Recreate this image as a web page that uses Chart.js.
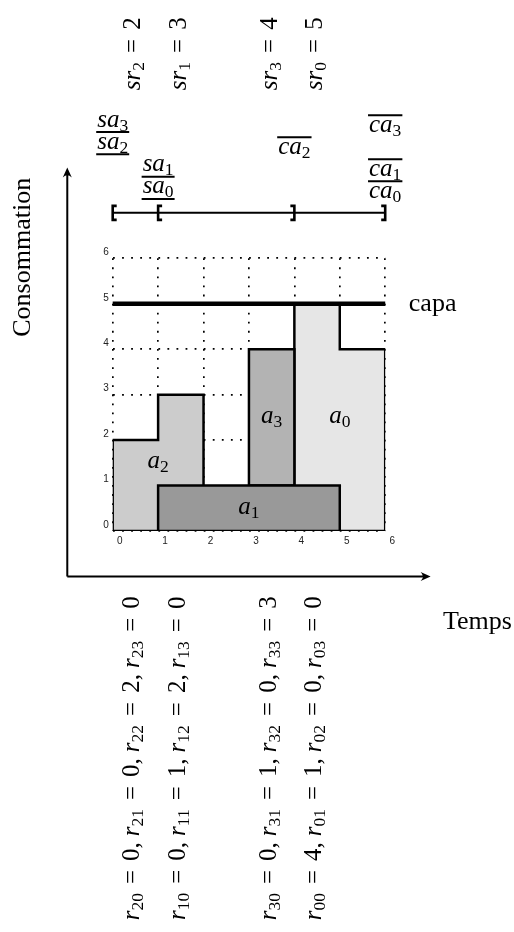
<!DOCTYPE html>
<html>
<head>
<meta charset="utf-8">
<script src="https://cdn.jsdelivr.net/npm/chart.js@4/dist/chart.umd.min.js"></script>
<style>
  html, body { margin: 0; padding: 0; background: #fff; }
  canvas { display: block; }
</style>
</head>
<body>
<canvas id="chart" width="514" height="932"></canvas>
<script>
// axis ticks
const timeTicks = [0, 1, 2, 3, 4, 5, 6];
const consTicks = [0, 1, 2, 3, 4, 5, 6];
const capacity = 5;
const horizon = 6;

// activities a0..a3 : outline of each consumption profile (time, consumption)
const activityNames = ['a_0', 'a_1', 'a_2', 'a_3'];
const a0Time = [4, 4, 5, 5, 6, 6, 4];
const a0Cons = [0, 5, 5, 4, 4, 0, 0];
const a1Time = [1, 1, 5, 5, 1];
const a1Cons = [0, 1, 1, 0, 0];
const a2Time = [0, 0, 1, 1, 2, 2, 0];
const a2Cons = [0, 2, 2, 3, 3, 0, 0];
const a3Time = [3, 3, 4, 4, 3];
const a3Cons = [1, 4, 4, 1, 1];

// earliest start sa_i and latest completion ca_i
const saValues = [1, 1, 0, 0];
const caValues = [6, 6, 4, 6];

// sr_i : position on the time axis and value
const srTime = [4.5, 1.5, 0.5, 3.5];
const srValues = [5, 3, 2, 4];

// r_ij
const r0 = [4, 1, 0, 0];
const r1 = [0, 1, 2, 0];
const r2 = [0, 0, 2, 0];
const r3 = [0, 1, 0, 3];
const rRows = [r0, r1, r2, r3];

// styles
const fills = ['#e6e6e6', '#999999', '#cccccc', '#b3b3b3'];
const drawOrder = [4, 1, 3, 2];
// where the a_i names sit inside their shapes
const nameAt = [[5, 2.5], [3, 0.5], [1, 1.5], [3.5, 2.5]];

const serif = '"Liberation Serif", "DejaVu Serif", serif';
const MATH = 25;

const toPts = (xs, ys) => xs.map((v, i) => ({x: v, y: ys[i]}));
const outlines = [toPts(a0Time, a0Cons), toPts(a1Time, a1Cons), toPts(a2Time, a2Cons), toPts(a3Time, a3Cons)];

const datasets = outlines.map((pts, i) => ({
    label: activityNames[i],
    data: pts,
    backgroundColor: fills[i],
    borderColor: '#000',
    borderWidth: 2.5,
    borderJoinStyle: 'miter',
    borderCapStyle: 'square',
    fill: 'shape',
    pointRadius: 0,
    tension: 0,
    order: drawOrder[i]
}));
datasets.push({
    label: 'capa',
    data: [{x: 0, y: capacity}, {x: horizon, y: capacity}],
    borderColor: '#000',
    borderWidth: 4.5,
    borderCapStyle: 'round',
    fill: false,
    pointRadius: 0,
    order: 0
});

// tiny math typesetter: letters italic, _x or _{xy} subscript
function mathRuns(src) {
    const runs = [];
    let i = 0;
    while (i < src.length) {
        const c = src[i];
        if (c === ' ') { i++; continue; }
        if (c === '_') {
            let t;
            if (src[i + 1] === '{') {
                const j = src.indexOf('}', i);
                t = src.slice(i + 2, j);
                i = j + 1;
            } else {
                t = src[i + 1];
                i += 2;
            }
            runs.push({text: t, sub: true});
            continue;
        }
        if (c === '=') { runs.push({text: '=', pad: 0.36}); i++; continue; }
        if (c === ',') { runs.push({text: ',', after: 0.24}); i++; continue; }
        runs.push({text: c, italic: /[a-zA-Z]/.test(c)});
        i++;
    }
    return runs;
}

function runFont(r, size) {
    const s = r.sub ? size * 0.7 : size;
    return (r.italic ? 'italic ' : '') + s + 'px ' + serif;
}

function drawMath(ctx, src, x, y, size, align) {
    const runs = mathRuns(src);
    let w = 0;
    runs.forEach(r => {
        ctx.font = runFont(r, size);
        r.w = ctx.measureText(r.text).width;
        r.before = (r.pad || 0) * size;
        r.total = r.before + r.w + (r.pad || 0) * size + (r.after || 0) * size;
        w += r.total;
    });
    let cx = align === 'center' ? x - w / 2 : (align === 'right' ? x - w : x);
    const x0 = cx;
    ctx.textAlign = 'left';
    ctx.textBaseline = 'alphabetic';
    runs.forEach(r => {
        ctx.font = runFont(r, size);
        ctx.fillText(r.text, cx + r.before, r.sub ? y + size * 0.16 : y);
        cx += r.total;
    });
    return {x0: x0, w: w};
}

function arrowHead(ctx, x, y, dx, dy) {
    const len = 10, half = 4.5;
    const nx = -dy, ny = dx;
    ctx.beginPath();
    ctx.moveTo(x, y);
    ctx.lineTo(x - dx * len + nx * half, y - dy * len + ny * half);
    ctx.quadraticCurveTo(x - dx * len * 0.55, y - dy * len * 0.55, x - dx * len - nx * half, y - dy * len - ny * half);
    ctx.closePath();
    ctx.fill();
}

const decor = {
    id: 'decor',
    afterDraw(chart) {
        const {ctx, scales: {x, y}} = chart;
        const px = v => x.getPixelForValue(v);
        const py = v => y.getPixelForValue(v);
        ctx.save();
        ctx.fillStyle = '#000';
        ctx.strokeStyle = '#000';

        // outer axes with arrows
        const ox = px(-1), oy = py(-1);
        ctx.lineWidth = 2;
        ctx.beginPath();
        ctx.moveTo(ox, oy); ctx.lineTo(ox, py(8) + 6);
        ctx.moveTo(ox, oy); ctx.lineTo(px(7) - 6, oy);
        ctx.stroke();
        arrowHead(ctx, ox, py(8), 0, -1);
        arrowHead(ctx, px(7), oy, 1, 0);

        // axis titles
        ctx.font = '26px ' + serif;
        ctx.textBaseline = 'middle';
        ctx.textAlign = 'left';
        ctx.fillText('capa', px(6.52), py(capacity));
        ctx.fillText('Temps', px(7.27), py(-2));
        ctx.save();
        ctx.translate(px(-2) + 1, py(6) - 1);
        ctx.rotate(-Math.PI / 2);
        ctx.textAlign = 'center';
        ctx.fillText('Consommation', 0, 0);
        ctx.restore();

        // interval bar
        const starts = [...new Set(saValues)].sort((a, b) => a - b);
        const ends = [...new Set(caValues)].sort((a, b) => a - b);
        const barY = py(7);
        ctx.lineWidth = 2;
        ctx.beginPath();
        ctx.moveTo(px(Math.min(...starts)), barY);
        ctx.lineTo(px(Math.max(...ends)), barY);
        ctx.stroke();
        ctx.lineWidth = 2.6;
        const bh = 7, arm = 4;
        starts.forEach(t => {
            const bx = px(t);
            ctx.beginPath();
            ctx.moveTo(bx + arm, barY - bh); ctx.lineTo(bx, barY - bh);
            ctx.lineTo(bx, barY + bh); ctx.lineTo(bx + arm, barY + bh);
            ctx.stroke();
        });
        ends.forEach(t => {
            const bx = px(t);
            ctx.beginPath();
            ctx.moveTo(bx - arm, barY - bh); ctx.lineTo(bx, barY - bh);
            ctx.lineTo(bx, barY + bh); ctx.lineTo(bx - arm, barY + bh);
            ctx.stroke();
        });

        // sa_i (underlined) and ca_i (overlined) stacked by activity index
        ctx.lineWidth = 2;
        saValues.forEach((t, i) => {
            const base = barY - 25 - 22.3 * i + 5.6;
            const m = drawMath(ctx, 'sa_' + i, px(t), base, MATH, 'center');
            ctx.beginPath();
            ctx.moveTo(m.x0 - 1, base + 5.5); ctx.lineTo(m.x0 + m.w + 1, base + 5.5);
            ctx.stroke();
        });
        caValues.forEach((t, i) => {
            const base = barY - 20.5 - 22 * i + 5.6;
            const m = drawMath(ctx, 'ca_' + i, px(t), base, MATH, 'center');
            ctx.beginPath();
            ctx.moveTo(m.x0 - 1, base - 16.6); ctx.lineTo(m.x0 + m.w + 1, base - 16.6);
            ctx.stroke();
        });

        // activity names
        activityNames.forEach((n, i) => {
            drawMath(ctx, n, px(nameAt[i][0]), py(nameAt[i][1]) + 5.6, MATH, 'center');
        });

        // rotated sr_i labels on top and r_ij rows below
        srTime.forEach((t, i) => {
            ctx.save();
            ctx.translate(px(t) + 5, py(10.5));
            ctx.rotate(-Math.PI / 2);
            drawMath(ctx, 'sr_' + i + ' = ' + srValues[i], 0, 0, MATH, 'center');
            ctx.restore();

            const txt = rRows[i].map((v, j) => 'r_{' + i + j + '} = ' + v).join(', ');
            ctx.save();
            ctx.translate(px(t) + 4, py(-5));
            ctx.rotate(-Math.PI / 2);
            drawMath(ctx, txt, 0, 0, MATH, 'center');
            ctx.restore();
        });
        ctx.restore();
    }
};

const tickFont = {family: '"Liberation Sans", Arial, sans-serif', size: 10};

new Chart(document.getElementById('chart'), {
    type: 'line',
    data: {datasets: datasets},
    options: {
        responsive: false,
        animation: false,
        events: [],
        layout: {padding: {left: 92.7, right: 128.8, top: 258.3, bottom: 381}},
        plugins: {legend: {display: false}, tooltip: {enabled: false}},
        scales: {
            x: {
                type: 'linear',
                min: timeTicks[0],
                max: timeTicks[timeTicks.length - 1],
                afterBuildTicks: s => { s.ticks = timeTicks.map(v => ({value: v})); },
                afterFit: s => { s.height = 20; s.paddingLeft = 0; s.paddingRight = 0; },
                grid: {color: '#000', lineWidth: 1.7, drawTicks: false},
                border: {display: false, dash: [1.8, 7.27]},
                ticks: {font: tickFont, color: '#222', padding: 4, labelOffset: 7, maxRotation: 0, autoSkip: false}
            },
            y: {
                type: 'linear',
                min: consTicks[0],
                max: consTicks[consTicks.length - 1],
                afterBuildTicks: s => { s.ticks = consTicks.map(v => ({value: v})); },
                afterFit: s => { s.width = 20; s.paddingTop = 0; s.paddingBottom = 0; },
                grid: {color: '#000', lineWidth: 1.7, drawTicks: false},
                border: {display: false, dash: [1.8, 7.27]},
                ticks: {font: tickFont, color: '#222', padding: 4, labelOffset: -6, autoSkip: false}
            }
        }
    },
    plugins: [decor]
});
</script>
</body>
</html>
